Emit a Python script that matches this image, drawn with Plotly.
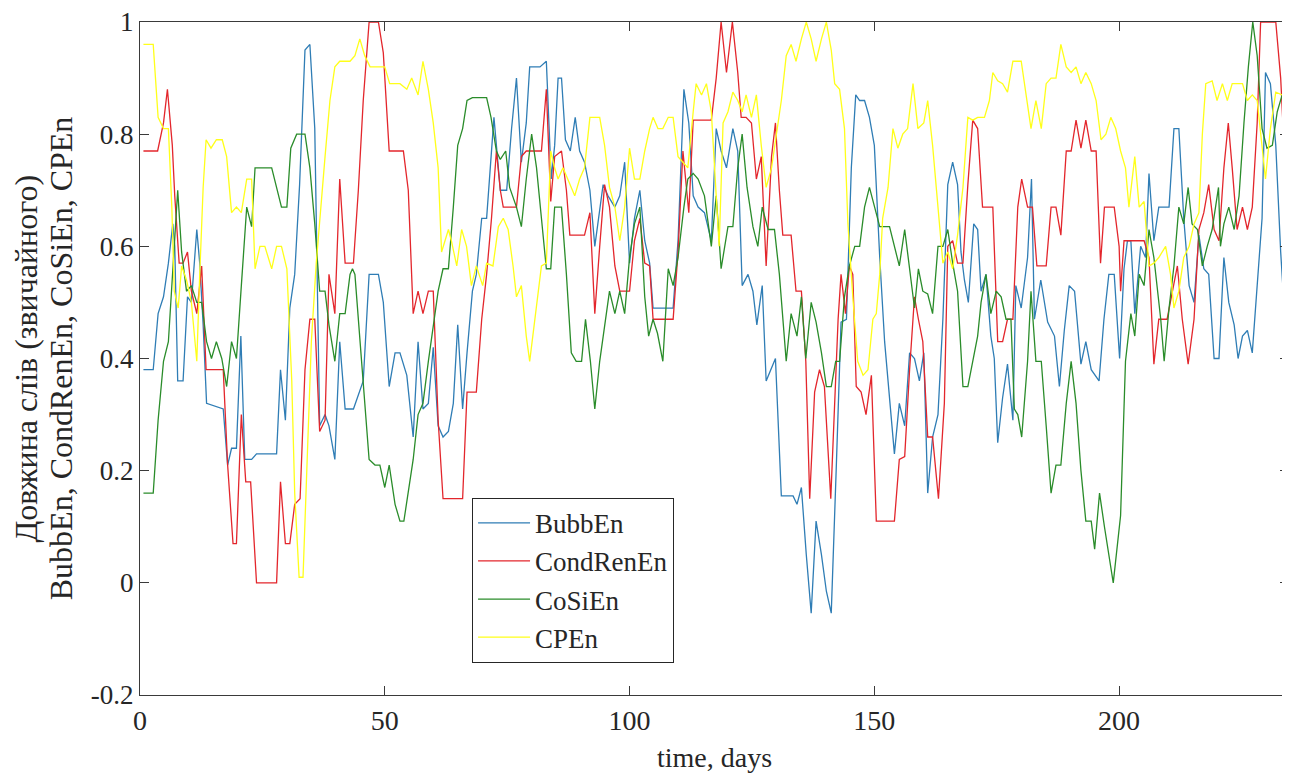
import plotly.graph_objects as go

# ---- data (day, value) ----
series_names = ["BubbEn", "CondRenEn", "CoSiEn", "CPEn"]

bubb_x = [0.7, 2.7, 3.7, 4.8, 5.8, 6.7, 7.1, 7.7, 8.8, 9.7, 10.5, 11.6, 12.2, 12.9, 13.6, 17.0, 17.9, 18.7, 19.7, 20.6,
          21.4, 22.8, 23.8, 27.9, 28.7, 29.7, 30.6, 31.6, 32.6, 33.7, 34.7, 35.7, 36.7, 37.8, 38.6, 39.8, 40.8, 41.9,
          43.6, 45.6, 46.8, 48.7, 49.7, 50.9, 52.1, 53.1, 54.5, 55.8, 56.8, 57.8, 58.9, 59.9, 60.9, 61.9, 63.0, 64.0,
          64.9, 65.9, 66.8, 67.9, 68.7, 69.8, 70.8, 71.8, 72.3, 72.8, 73.6, 74.9, 75.9, 76.9, 77.9, 78.9, 79.6, 81.7,
          83.0, 84.0, 84.7, 85.4, 86.1, 86.9, 87.9, 88.9, 89.8, 90.8, 91.9, 92.9, 94.6, 95.6, 97.0, 98.0, 99.0, 100.0,
          101.0, 102.1, 103.1, 104.1, 104.8, 108.9, 109.9, 111.1, 112.1, 113.0, 114.0, 115.3, 116.7, 117.7, 118.7,
          119.8, 121.1, 122.1, 123.0, 124.2, 125.2, 126.0, 127.1, 127.9, 128.9, 129.8, 131.0, 133.4, 134.2, 135.1,
          136.1, 137.1, 138.1, 139.2, 140.2, 141.2, 142.2, 143.2, 144.3, 145.3, 146.2, 147.0, 148.0, 149.0, 150.0,
          151.1, 152.1, 153.1, 154.1, 155.1, 156.2, 157.2, 158.2, 159.2, 160.1, 160.9, 161.9, 163.0, 164.0, 165.0,
          166.0, 167.0, 167.7, 168.4, 169.2, 170.3, 171.1, 171.8, 172.8, 173.8, 174.5, 175.2, 176.2, 177.2, 178.3,
          178.9, 180.0, 181.3, 182.1, 182.7, 184.0, 185.4, 186.8, 187.8, 188.8, 189.8, 190.9, 192.2, 193.2, 194.3,
          195.9, 196.9, 197.9, 199.0, 200.1, 201.0, 201.7, 202.4, 203.2, 204.4, 205.4, 206.1, 207.1, 208.1, 210.2,
          211.2, 212.2, 213.2, 214.3, 215.3, 216.3, 217.3, 218.3, 219.4, 220.4, 221.4, 222.4, 223.5, 224.3, 225.2,
          226.2, 227.2, 228.2, 229.2, 229.9, 230.9, 232.0, 233.0, 234.0, 235.5]
bubb_y = [0.38, 0.38, 0.48, 0.51, 0.57, 0.64, 0.60, 0.36, 0.36, 0.51, 0.50, 0.63, 0.57, 0.46, 0.32, 0.31, 0.21, 0.24, 0.24, 0.44,
          0.22, 0.22, 0.23, 0.23, 0.38, 0.29, 0.49, 0.55, 0.71, 0.95, 0.96, 0.81, 0.28, 0.30, 0.28, 0.22, 0.43, 0.31,
          0.31, 0.36, 0.55, 0.55, 0.50, 0.35, 0.41, 0.41, 0.37, 0.26, 0.43, 0.31, 0.32, 0.42, 0.28, 0.26, 0.27, 0.32,
          0.46, 0.31, 0.41, 0.52, 0.55, 0.65, 0.65, 0.76, 0.83, 0.78, 0.70, 0.70, 0.81, 0.90, 0.75, 0.82, 0.92, 0.92,
          0.93, 0.72, 0.78, 0.90, 0.90, 0.79, 0.77, 0.83, 0.77, 0.75, 0.70, 0.60, 0.71, 0.69, 0.67, 0.69, 0.75, 0.57,
          0.65, 0.70, 0.61, 0.57, 0.49, 0.49, 0.61, 0.88, 0.82, 0.69, 0.67, 0.66, 0.61, 0.81, 0.77,
          0.74, 0.81, 0.77, 0.53, 0.55, 0.52, 0.46, 0.53, 0.36, 0.38, 0.40, 0.155, 0.155, 0.14, 0.17,
          0.05, -0.054, 0.11, 0.05, -0.015, -0.054, 0.20, 0.465, 0.47, 0.74, 0.87, 0.86, 0.86, 0.83, 0.78,
          0.58, 0.43, 0.33, 0.23, 0.32, 0.28, 0.41, 0.40, 0.36, 0.41, 0.16, 0.26, 0.30, 0.47, 0.71,
          0.75, 0.71, 0.59, 0.54, 0.50, 0.64, 0.63, 0.52, 0.55, 0.44, 0.40, 0.25, 0.33, 0.39, 0.29,
          0.53, 0.49, 0.58, 0.72, 0.47, 0.54, 0.465, 0.44, 0.35, 0.45, 0.53, 0.52, 0.39, 0.43, 0.38,
          0.36, 0.47, 0.55, 0.55, 0.40, 0.56, 0.61, 0.61, 0.48, 0.60, 0.58, 0.73, 0.61, 0.67, 0.67,
          0.81, 0.81, 0.65, 0.53, 0.50, 0.62, 0.56, 0.55, 0.40, 0.40, 0.58, 0.50, 0.46, 0.40, 0.44,
          0.45, 0.41, 0.54, 0.65, 0.91, 0.89, 0.78, 0.59, 0.45, 0.44]

cond_x = [0.7, 3.6, 4.8, 5.6, 6.6, 7.1, 8.0, 8.8, 9.7, 10.5, 11.6, 12.6, 13.5, 17.0, 17.9, 19.0, 19.7, 20.7, 21.6, 22.6,
          23.8, 27.9, 28.7, 29.7, 30.6, 31.6, 32.7, 33.7, 34.7, 35.7, 36.7, 37.8, 38.6, 39.8, 40.8, 41.9, 43.6, 44.6,
          45.6, 46.8, 48.7, 49.7, 50.9, 53.8, 54.8, 55.8, 56.8, 57.8, 58.9, 59.9, 60.9, 61.9, 65.9, 66.8, 68.7, 69.8,
          70.8, 71.8, 72.8, 73.6, 74.2, 76.9, 77.9, 78.9, 82.0, 83.0, 83.9, 84.7, 86.1, 87.1, 87.8, 90.8, 91.9, 92.9,
          93.9, 94.9, 95.9, 97.0, 98.0, 100.0, 101.0, 102.1, 103.1, 104.1, 104.8, 108.9, 109.9, 110.9, 112.1, 113.0,
          116.7, 117.7, 118.7, 119.8, 121.0, 122.1, 122.8, 123.8, 124.9, 125.9, 126.9, 127.9, 129.0, 129.8, 130.6,
          131.3, 133.0, 134.0, 135.1, 136.0, 136.8, 137.8, 138.8, 139.8, 141.1, 141.9, 142.6, 143.2, 144.1, 144.9,
          145.6, 146.3, 147.3, 148.3, 149.4, 150.4, 154.1, 155.1, 156.2, 157.2, 158.2, 159.0, 159.9, 160.9, 161.9,
          163.1, 164.3, 165.0, 166.0, 167.0, 168.1, 169.1, 170.1, 171.1, 172.1, 174.2, 175.2, 176.2, 177.2, 178.3,
          179.3, 180.1, 181.3, 182.3, 183.2, 185.1, 186.1, 187.1, 188.1, 189.2, 190.2, 191.2, 192.2, 193.2, 194.3,
          195.3, 196.2, 197.0, 199.0, 200.0, 200.3, 201.0, 205.1, 206.1, 207.1, 208.1, 209.8, 210.9, 211.9, 212.9,
          214.1, 215.3, 216.3, 217.3, 218.3, 219.4, 220.4, 221.4, 222.3, 223.1, 224.1, 225.2, 226.2, 227.2, 228.2,
          228.9, 232.0, 233.0, 234.3, 235.5]
cond_y = [0.77, 0.77, 0.82, 0.88, 0.78, 0.69, 0.57, 0.57, 0.59, 0.52, 0.48, 0.565, 0.38, 0.38, 0.21, 0.07, 0.07, 0.30, 0.18, 0.18,
          0.0, 0.0, 0.18, 0.07, 0.07, 0.14, 0.15, 0.38, 0.47, 0.47, 0.27, 0.29, 0.55, 0.48, 0.72, 0.57, 0.57, 0.70,
          0.86, 1.0, 1.0, 0.945, 0.77, 0.77, 0.70, 0.48, 0.52, 0.48, 0.52, 0.52, 0.29, 0.15, 0.15, 0.34, 0.34, 0.47,
          0.55, 0.65, 0.77, 0.70, 0.67, 0.67, 0.76, 0.77, 0.77, 0.88, 0.68, 0.76, 0.77, 0.70, 0.62, 0.62, 0.66, 0.48,
          0.60, 0.71, 0.67, 0.565, 0.52, 0.52, 0.61, 0.65, 0.57, 0.565, 0.47, 0.47, 0.59, 0.77, 0.66, 0.825,
          0.825, 0.90, 1.0, 0.91, 1.0, 0.91, 0.83, 0.83, 0.82, 0.72, 0.76, 0.565, 0.76, 0.82, 0.70,
          0.62, 0.62, 0.52, 0.52, 0.395, 0.15, 0.34, 0.38, 0.35, 0.15, 0.34, 0.47, 0.55, 0.48, 0.565,
          0.55, 0.35, 0.34, 0.30, 0.37, 0.11, 0.11, 0.22, 0.225, 0.38, 0.51, 0.47, 0.43, 0.26, 0.26,
          0.15, 0.32, 0.60, 0.61, 0.57, 0.57, 0.71, 0.825, 0.81, 0.67, 0.67, 0.43, 0.43, 0.47, 0.47,
          0.67, 0.72, 0.67, 0.67, 0.565, 0.565, 0.67, 0.67, 0.62, 0.77, 0.77, 0.825, 0.775, 0.825, 0.77,
          0.77, 0.57, 0.67, 0.67, 0.60, 0.52, 0.61, 0.61, 0.58, 0.39, 0.47, 0.47, 0.52, 0.565, 0.47,
          0.39, 0.47, 0.63, 0.66, 0.71, 0.63, 0.61, 0.74, 0.82, 0.74, 0.63, 0.67, 0.63, 0.67, 0.82,
          1.0, 1.0, 0.90, 0.67, 0.66]

cosi_x = [0.7, 2.7, 3.7, 4.8, 5.8, 6.7, 7.1, 7.7, 8.5, 9.5, 10.5, 11.6, 12.6, 13.6, 14.6, 15.6, 16.7, 17.7, 18.7, 19.7,
          20.7, 21.8, 22.8, 23.5, 26.9, 27.9, 28.9, 30.0, 30.8, 32.0, 33.7, 34.7, 35.7, 36.7, 37.8, 38.6, 39.8, 40.8,
          41.9, 42.9, 43.4, 43.9, 44.9, 45.6, 46.8, 48.0, 49.0, 50.0, 50.9, 52.1, 53.1, 53.9, 54.8, 55.8, 56.8, 57.8,
          58.9, 59.9, 60.9, 61.9, 63.0, 64.0, 64.9, 65.9, 66.8, 67.9, 70.8, 71.7, 72.8, 73.6, 74.7, 75.5, 76.9, 77.9,
          78.9, 80.0, 81.0, 82.0, 83.0, 83.9, 84.7, 86.1, 87.1, 88.1, 89.1, 90.2, 91.0, 92.0, 92.9, 93.9, 94.9, 95.9,
          97.0, 98.0, 99.0, 100.0, 101.0, 102.1, 103.1, 103.9, 104.8, 105.7, 106.8, 107.9, 108.9, 109.9, 111.1,
          111.9, 113.0, 114.0, 115.3, 116.7, 117.7, 118.7, 120.1, 121.1, 122.1, 123.0, 124.0, 125.2, 126.2, 127.1,
          128.3, 129.6, 130.6, 132.0, 133.0, 134.2, 135.1, 136.0, 137.1, 138.1, 139.2, 140.2, 141.2, 142.1, 142.9,
          143.9, 144.9, 146.0, 147.0, 148.0, 149.0, 150.0, 151.1, 153.1, 154.1, 155.1, 156.2, 157.2, 158.2, 159.0,
          159.9, 160.9, 161.9, 163.0, 164.0, 165.0, 166.0, 167.0, 168.1, 169.1, 170.1, 171.1, 171.8, 172.8, 173.8,
          174.9, 175.9, 176.9, 177.9, 178.6, 179.3, 180.1, 181.3, 182.0, 183.0, 184.1, 185.1, 186.1, 187.1, 188.1,
          189.2, 190.2, 191.2, 192.2, 193.2, 194.3, 195.0, 196.0, 197.0, 198.8, 200.3, 201.3, 202.4, 203.2, 204.1,
          205.1, 206.1, 207.1, 208.5, 209.2, 210.2, 211.2, 212.2, 213.2, 214.1, 214.9, 216.0, 217.0, 218.0, 219.0,
          220.3, 220.7, 221.4, 222.4, 223.5, 224.5, 225.5, 226.4, 227.3, 228.2, 229.2, 230.2, 231.3, 232.3, 233.3,
          234.7, 235.5]
cosi_y = [0.16, 0.16, 0.29, 0.395, 0.43, 0.56, 0.63, 0.70, 0.59, 0.52, 0.53, 0.50, 0.50, 0.43, 0.40, 0.43, 0.40, 0.35, 0.43, 0.40,
          0.53, 0.67, 0.635, 0.74, 0.74, 0.705, 0.67, 0.67, 0.775, 0.80, 0.80, 0.74, 0.64, 0.52, 0.52, 0.46, 0.395, 0.48,
          0.48, 0.55, 0.56, 0.55, 0.43, 0.36, 0.22, 0.21, 0.21, 0.17, 0.21, 0.14, 0.11, 0.11, 0.16, 0.22, 0.30, 0.32,
          0.395, 0.46, 0.52, 0.56, 0.56, 0.67, 0.78, 0.81, 0.86, 0.865, 0.865, 0.83, 0.77, 0.755, 0.77, 0.705, 0.67, 0.635,
          0.72, 0.80, 0.74, 0.65, 0.56, 0.56, 0.67, 0.67, 0.55, 0.41, 0.395, 0.395, 0.47, 0.395, 0.31, 0.395, 0.46, 0.52,
          0.48, 0.52, 0.48, 0.58, 0.64, 0.67, 0.51, 0.44, 0.47, 0.445, 0.395, 0.56, 0.53, 0.58, 0.67,
          0.72, 0.73, 0.72, 0.69, 0.60, 0.69, 0.56, 0.635, 0.635, 0.74, 0.80, 0.705, 0.635, 0.60, 0.67,
          0.63, 0.63, 0.55, 0.395, 0.48, 0.44, 0.51, 0.40, 0.50, 0.465, 0.41, 0.35, 0.35, 0.395, 0.395,
          0.51, 0.565, 0.60, 0.60, 0.67, 0.705, 0.67, 0.635, 0.635, 0.60, 0.565, 0.63, 0.565, 0.49, 0.56,
          0.52, 0.515, 0.48, 0.60, 0.60, 0.63, 0.57, 0.52, 0.35, 0.35, 0.395, 0.44, 0.50, 0.55, 0.48,
          0.52, 0.51, 0.47, 0.47, 0.31, 0.30, 0.26, 0.395, 0.52, 0.395, 0.395, 0.28, 0.16, 0.21, 0.21,
          0.32, 0.395, 0.32, 0.20, 0.11, 0.11, 0.06, 0.16, 0.10, 0.0, 0.12, 0.395, 0.48, 0.44, 0.55,
          0.53, 0.63, 0.58, 0.47, 0.395, 0.49, 0.565, 0.67, 0.64, 0.705, 0.64, 0.63, 0.565, 0.60, 0.63,
          0.705, 0.60, 0.64, 0.67, 0.63, 0.69, 0.82, 0.92, 1.0, 0.94, 0.81, 0.775, 0.78, 0.84, 0.87,
          0.90, 0.88]

cpen_x = [0.7, 2.7, 3.7, 4.8, 5.8, 6.5, 7.0, 7.8, 8.5, 9.5, 10.5, 11.6, 12.2, 12.9, 13.5, 14.5, 15.6, 16.8, 17.7, 18.7,
          19.7, 20.7, 21.8, 22.8, 23.5, 24.5, 25.5, 26.9, 27.9, 28.9, 30.0, 31.0, 31.6, 32.5, 33.3, 34.3, 35.0, 36.0,
          36.7, 37.8, 38.8, 39.8, 40.8, 42.9, 43.9, 44.9, 45.9, 47.0, 50.0, 51.0, 52.1, 53.1, 54.5, 55.5, 56.8, 57.8,
          58.9, 59.9, 60.9, 61.6, 62.3, 63.0, 63.6, 64.7, 65.7, 66.7, 67.7, 68.7, 70.0, 70.8, 72.1, 73.2, 74.2, 75.2,
          76.2, 76.9, 77.9, 78.9, 79.6, 80.6, 82.0, 83.0, 83.9, 84.7, 85.4, 86.4, 87.4, 88.8, 89.8, 90.8, 91.9, 92.9,
          93.9, 94.9, 95.9, 97.0, 98.0, 99.0, 100.0, 101.0, 102.1, 103.1, 104.1, 104.8, 105.8, 106.8, 107.9, 108.9,
          109.9, 110.9, 111.9, 113.0, 113.6, 114.7, 115.7, 116.7, 117.7, 118.3, 119.1, 120.1, 121.1, 122.1, 123.0,
          123.8, 124.9, 125.9, 126.9, 127.9, 129.0, 130.0, 131.0, 132.0, 133.0, 134.0, 135.1, 136.1, 137.1, 138.1,
          139.2, 140.2, 141.2, 141.9, 142.9, 143.9, 144.6, 145.6, 146.6, 147.7, 148.7, 149.7, 150.4, 151.1, 151.7,
          152.8, 153.8, 154.8, 155.8, 156.8, 157.9, 158.9, 160.1, 160.9, 161.9, 163.0, 164.0, 165.0, 166.0, 167.0,
          168.1, 169.1, 170.1, 171.1, 172.5, 173.5, 174.2, 175.2, 176.2, 177.2, 178.3, 180.0, 181.0, 182.0, 183.0,
          184.1, 185.1, 186.1, 187.1, 188.1, 189.2, 190.2, 191.2, 192.2, 193.2, 194.3, 195.3, 196.3, 197.3, 198.3,
          199.3, 200.3, 201.3, 202.0, 203.2, 204.1, 205.1, 206.1, 207.1, 208.1, 209.5, 210.5, 211.2, 212.2, 213.2,
          214.3, 215.3, 216.3, 217.0, 217.7, 219.0, 220.0, 221.1, 222.1, 223.1, 225.2, 226.2, 227.2, 228.2, 229.2,
          229.9, 230.9, 232.0, 233.3, 234.7, 235.5]
cpen_y = [0.96, 0.96, 0.83, 0.81, 0.81, 0.67, 0.52, 0.49, 0.565, 0.54, 0.50, 0.395, 0.55, 0.705, 0.79, 0.775, 0.79, 0.79, 0.76, 0.66,
          0.67, 0.66, 0.72, 0.72, 0.56, 0.60, 0.60, 0.56, 0.60, 0.60, 0.56, 0.36, 0.16, 0.01, 0.01, 0.24, 0.43, 0.57,
          0.65, 0.76, 0.86, 0.92, 0.93, 0.93, 0.94, 0.97, 0.94, 0.92, 0.92, 0.89, 0.89, 0.89, 0.88, 0.90, 0.87, 0.93,
          0.88, 0.82, 0.74, 0.59, 0.61, 0.63, 0.61, 0.565, 0.63, 0.60, 0.53, 0.565, 0.53, 0.57, 0.565, 0.635, 0.65, 0.63,
          0.565, 0.51, 0.53, 0.44, 0.395, 0.47, 0.565, 0.57, 0.77, 0.74, 0.72, 0.74, 0.72, 0.69, 0.72, 0.74, 0.83, 0.83,
          0.83, 0.78, 0.705, 0.67, 0.61, 0.67, 0.775, 0.72, 0.72, 0.77, 0.81, 0.83, 0.81, 0.81, 0.83, 0.83,
          0.76, 0.75, 0.74, 0.84, 0.89, 0.87, 0.89, 0.84, 0.70, 0.60, 0.82, 0.84, 0.875, 0.86, 0.84,
          0.87, 0.83, 0.87, 0.78, 0.705, 0.74, 0.80, 0.86, 0.94, 0.96, 0.93, 0.97, 1.0, 0.97, 0.93,
          0.97, 1.0, 0.95, 0.89, 0.88, 0.81, 0.64, 0.51, 0.395, 0.37, 0.38, 0.47, 0.48, 0.55, 0.65,
          0.705, 0.81, 0.775, 0.80, 0.81, 0.89, 0.81, 0.82, 0.86, 0.78, 0.67, 0.57, 0.59, 0.56, 0.62,
          0.705, 0.83, 0.825, 0.83, 0.83, 0.86, 0.91, 0.895, 0.89, 0.875, 0.93, 0.93, 0.87, 0.81, 0.86,
          0.81, 0.89, 0.90, 0.90, 0.96, 0.92, 0.91, 0.92, 0.89, 0.91, 0.89, 0.86, 0.79, 0.80, 0.83,
          0.81, 0.77, 0.74, 0.67, 0.76, 0.67, 0.68, 0.565, 0.57, 0.58, 0.60, 0.55, 0.49, 0.52, 0.58,
          0.60, 0.64, 0.66, 0.80, 0.89, 0.895, 0.86, 0.89, 0.86, 0.89, 0.89, 0.86, 0.87, 0.86, 0.78,
          0.72, 0.81, 0.875, 0.87, 0.88, 0.88]

x_ticks = [0, 50, 100, 150, 200]
y_ticks = [-0.2, 0, 0.2, 0.4, 0.6, 0.8, 1]
y_tick_text = ["-0.2", "0", "0.2", "0.4", "0.6", "0.8", "1"]

colors = ["#2f7db5", "#e3262c", "#2a8c2a", "#ffff1a"]
xs = [bubb_x, cond_x, cosi_x, cpen_x]
ys = [bubb_y, cond_y, cosi_y, cpen_y]

FONT = "Liberation Serif, serif"
TXT = "#262626"
AX = "#3a3a3a"

fig = go.Figure()
for name, x, y, c in zip(series_names, xs, ys, colors):
    fig.add_trace(go.Scatter(x=x, y=y, mode="lines", name=name,
                             line=dict(color=c, width=1.3)))

# the page body adds an 8px offset, so the figure is 8px smaller than the window
fig.update_layout(
    width=1282, height=766,
    margin=dict(l=132, r=1, t=14, b=79),
    paper_bgcolor="white", plot_bgcolor="white",
    font=dict(family=FONT, size=27, color=TXT),
    showlegend=True,
    legend=dict(x=0.289, y=0.293, xanchor="left", yanchor="top",
                bgcolor="white", bordercolor=TXT, borderwidth=1,
                font=dict(family=FONT, size=27, color=TXT),
                itemwidth=52, tracegroupgap=0),
)
fig.update_xaxes(range=[0, 234.7], tickvals=x_ticks, ticks="inside", ticklen=9,
                 tickcolor=AX, showline=True, linecolor=AX, linewidth=1,
                 mirror="ticks", showgrid=False, zeroline=False, automargin=False,
                 ticklabeloverflow="allow",
                 tickfont=dict(family=FONT, size=28, color=TXT))
fig.update_yaxes(range=[-0.2, 1], tickvals=y_ticks, ticktext=y_tick_text,
                 ticks="inside", ticklen=9, tickcolor=AX, showline=True,
                 linecolor=AX, linewidth=1, mirror="ticks", showgrid=False,
                 zeroline=False, automargin=False, ticklabeloverflow="allow",
                 tickfont=dict(family=FONT, size=27, color=TXT))

fig.add_annotation(text="Довжина слів (звичайного)", xref="paper", yref="paper",
                   x=-0.100, y=0.5, xanchor="center", yanchor="middle", textangle=-90,
                   showarrow=False, font=dict(family=FONT, size=32, color=TXT))
fig.add_annotation(text="BubbEn, CondRenEn, CoSiEn, CPEn", xref="paper", yref="paper",
                   x=-0.069, y=0.5, xanchor="center", yanchor="middle", textangle=-90,
                   showarrow=False, font=dict(family=FONT, size=32, color=TXT))
fig.add_annotation(text="time, days", xref="paper", yref="paper",
                   x=0.5, y=-0.093, xanchor="center", yanchor="middle",
                   showarrow=False, font=dict(family=FONT, size=28, color=TXT))

fig.write_html("out.html")
